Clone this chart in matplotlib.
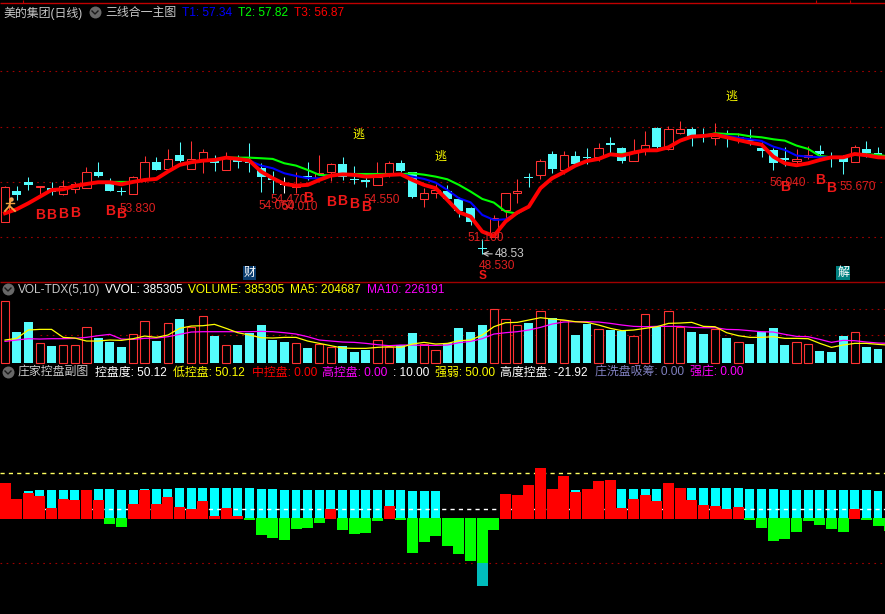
import matplotlib
matplotlib.use("Agg")
import matplotlib.pyplot as plt

plt.rcParams['font.family'] = ['Liberation Sans', 'Noto Sans CJK SC', 'DejaVu Sans']

W, H = 885, 614

# --- daily candles
opens = [51.26,53.98,54.77,54.30,54.22,53.69,54.19,54.22,55.64,54.65,53.98,53.69,54.94,56.48,55.93,57.12,55.93,56.68,56.62,55.84,
         56.68,56.54,55.96,55.09,54.48,54.36,55.32,55.14,55.61,56.33,55.03,54.91,54.48,55.46,56.39,55.61,53.26,53.78,54.01,53.26,
         52.48,49.00,50.01,52.33,53.78,55.23,55.40,57.20,55.84,57.03,56.88,56.97,58.07,57.72,56.59,57.67,59.46,57.64,59.06,59.38,
         58.86,58.57,58.77,58.48,58.42,57.70,57.55,56.83,56.62,56.97,57.46,57.03,57.03,56.54,57.61,57.26,56.97]
closes = [54.30,53.66,54.53,54.39,53.93,54.45,54.56,55.61,55.32,54.01,53.87,55.17,56.48,55.84,56.74,56.59,56.74,57.35,56.45,56.97,
          56.54,56.39,55.17,54.91,54.48,54.51,55.17,55.58,56.30,55.17,54.91,54.80,55.17,56.39,55.75,53.49,53.78,54.07,53.29,52.27,
          51.32,48.91,51.66,53.78,54.01,55.09,56.56,55.90,57.09,56.33,56.83,57.70,58.01,56.59,57.35,57.96,57.81,59.35,59.35,58.74,
          58.77,58.77,58.68,58.65,58.33,57.46,56.45,56.68,56.80,57.12,57.20,56.91,56.54,57.78,57.26,57.12,56.54]
highs = [54.45,54.42,55.20,54.39,54.77,54.94,54.80,56.04,56.48,55.09,54.36,55.29,57.03,56.91,57.64,58.22,58.33,57.64,57.12,57.38,
         57.12,58.13,56.39,55.72,55.23,55.67,56.48,57.12,56.39,56.91,56.16,55.52,56.48,56.59,56.68,55.61,54.22,54.59,54.48,53.49,
         52.62,49.81,51.90,53.84,55.03,55.55,56.77,57.49,57.49,57.46,57.70,58.13,58.68,57.84,58.51,59.20,59.55,59.67,60.07,59.52,
         59.44,59.90,59.26,59.00,59.35,58.28,57.70,57.84,57.64,57.90,57.96,57.41,57.12,57.96,58.33,57.81,57.55]
lows = [51.26,53.20,54.07,53.69,53.64,53.66,53.81,54.22,55.23,54.01,53.66,53.69,54.80,55.81,55.93,56.48,55.90,55.52,55.75,55.84,
        56.01,55.67,53.93,53.84,53.84,53.84,54.94,54.94,54.88,54.94,54.59,54.30,54.48,55.23,55.61,53.37,52.62,53.35,53.20,51.75,
        51.03,48.53,49.95,51.61,52.97,54.33,55.03,55.55,55.46,56.27,56.36,56.62,57.20,56.45,56.59,57.14,57.64,57.55,58.91,57.93,
        58.25,58.01,57.81,58.13,57.96,56.94,55.81,56.19,56.16,56.74,56.97,56.10,55.49,56.54,56.97,56.83,56.39]

t3 = [52.04,52.39,52.91,53.49,54.07,54.13,54.42,54.59,54.74,54.74,54.56,54.77,54.94,55.03,55.67,56.25,56.48,56.62,56.68,56.88,
      56.77,56.62,55.67,55.09,54.59,54.45,54.51,54.94,55.32,55.43,55.38,55.23,55.29,55.38,55.43,54.94,54.51,54.22,53.20,52.13,
      51.75,50.45,50.07,51.32,52.10,52.62,54.22,55.09,55.61,56.19,56.59,56.77,57.17,57.06,57.32,57.52,57.52,57.78,58.36,58.71,
      58.77,58.88,58.65,58.42,58.19,58.01,56.97,56.39,56.22,56.39,56.68,56.91,56.91,57.20,57.09,56.91,56.87]
# T2 and T1 run under T3 except on these bars
t2_apart = {9:54.77,10:54.77,20:56.88,21:56.88,22:56.83,23:56.77,24:56.39,25:56.19,26:55.81,27:55.38,28:55.32,
            30:55.46,31:55.46,32:55.46,33:55.46,35:55.52,36:55.40,37:55.23,38:55.00,39:54.51,40:53.93,41:53.29,42:52.97,43:52.19,44:52.01,
            52:57.20,53:57.20,61:59.00,62:58.94,63:58.91,64:58.74,65:58.65,66:58.48,67:58.36,68:57.93,69:57.64,70:57.03,
            74:57.17,75:57.12,76:56.97}
t1_apart = {22:56.19,23:55.96,24:55.52,25:55.29,26:55.09,27:55.09,35:55.23,36:55.03,37:54.71,38:54.07,39:53.35,40:52.99,41:51.90,42:51.46,43:51.52,44:52.04,
            62:58.77,63:58.62,64:58.48,65:58.33,66:57.84,67:57.55,68:57.06,69:56.97,70:56.91}

price_grid = [64.46, 59.59, 54.72, 49.94]

# signals on the price panel
b_bars = [3,4,5,6,9,10,26,28,29,30,31,67,70,71]
b_prices = [51.90,51.90,51.98,52.04,52.27,51.95,53.40,53.06,53.11,52.85,52.56,54.36,54.94,54.22]
price_labels = ["53.830","54.060","54.470","54.010","54.550","51.100","48.530","56.040","55.670"]
label_x = [9.83,21.8,22.77,23.77,30.77,39.75,40.67,65.67,71.67]
label_y = [52.45,52.71,53.20,52.62,53.17,49.87,47.46,54.65,54.30]
escape_x = [30.4,37.4,62.4]
escape_y = [58.86,56.97,62.19]

# --- volume panel, in thousands of lots
volumes = [717.6,358.8,475.8,226.2,195.0,206.7,206.7,413.4,288.6,241.8,183.3,331.5,483.6,253.5,460.2,510.9,421.2,542.1,312.0,202.8,
           206.7,347.1,440.7,265.2,241.8,226.2,171.6,214.5,179.4,195.0,124.8,148.2,261.3,179.4,206.7,347.1,218.4,144.3,226.2,405.6,
           358.8,440.7,624.0,507.0,436.8,464.1,600.6,522.6,495.3,323.7,452.4,390.0,382.2,370.5,312.0,565.5,417.3,600.6,413.4,358.8,
           335.4,397.8,288.6,237.9,218.4,358.8,405.6,206.7,237.9,214.5,136.5,124.8,312.0,354.9,183.3,159.9,159.9]
ma5 = [265.2,284.7,382.2,390.0,390.0,296.4,288.6,253.5,253.5,265.2,261.3,280.8,312.0,296.4,323.7,401.7,429.0,432.9,448.5,401.7,
       351.0,323.7,292.5,288.6,296.4,296.4,253.5,226.2,198.9,171.6,167.7,167.7,179.4,187.2,179.4,218.4,237.9,218.4,226.2,257.4,
       265.2,323.7,421.2,468.0,471.9,499.2,526.5,510.9,499.2,479.7,471.9,440.7,401.7,374.4,382.2,401.7,421.2,460.2,464.1,471.9,
       425.1,421.2,351.0,315.9,296.4,296.4,304.2,284.7,284.7,280.8,226.2,179.4,206.7,226.2,226.2,214.5,204.7]
ma10 = [249.6,265.2,280.8,276.9,280.8,280.8,284.7,296.4,315.9,331.5,276.9,273.0,284.7,288.6,304.2,331.5,358.8,362.7,362.7,362.7,
        362.7,362.7,366.6,362.7,351.0,335.4,304.2,265.2,253.5,241.8,237.9,226.2,210.6,198.9,206.7,206.7,202.8,202.8,206.7,234.0,
        249.6,280.8,335.4,351.0,362.7,382.2,413.4,452.4,475.8,479.7,479.7,475.8,460.2,440.7,425.1,421.2,425.1,425.1,425.1,413.4,
        409.5,409.5,390.0,386.1,374.4,362.7,358.8,331.5,308.1,304.2,273.0,237.9,261.3,257.4,241.8,230.1,226.2]
vol_grid = [624.8, 320.6]

# --- control panel
ctrl_cyan = [0,0,30.2,31.3,31.3,31.3,31.3,31.3,32.5,32.5,31.3,31.3,32.5,32.5,32.5,33.6,33.6,33.6,33.6,33.6,
             33.6,33.6,32.5,32.5,31.3,31.3,31.3,31.3,31.3,31.3,31.3,31.3,31.3,31.3,31.3,30.2,30.2,30.2,0,0,
             0,0,0,0,0,0,0,0,0,31.3,0,0,0,32.5,32.5,32.5,32.5,0,0,33.6,
             33.6,33.6,33.6,33.6,32.5,32.5,32.5,31.3,31.3,31.3,31.3,31.3,31.3,31.3,31.3,30.2,30.2]
ctrl_red = [39.2,21.3,28.0,24.6,11.2,21.3,20.1,31.3,20.1,0,0,15.7,31.3,15.7,23.5,12.3,10.1,19.0,2.2,11.2,
            2.2,0,0,0,0,0,0,0,10.1,0,0,0,0,13.4,0,0,0,0,0,0,
            0,0,0,26.9,25.7,36.9,56.0,32.5,47.0,29.1,32.5,41.4,42.5,11.2,21.3,25.7,19.0,39.2,33.6,20.1,
            14.6,13.4,10.1,12.3,0,0,0,0,0,0,0,0,0,10.1,0,0,0]
ctrl_green = [0,0,0,0,0,0,0,0,0,-6.7,-10.1,0,0,0,0,0,0,0,0,0,
              0,-2.2,-19.0,-22.4,-24.6,-12.3,-11.2,-5.6,0,-13.4,-17.9,-16.8,-3.4,0,-2.2,-39.2,-26.9,-20.1,-31.3,-40.3,
              -48.1,-50.7,-13.4,0,0,0,0,0,0,0,0,0,0,0,0,0,0,0,0,0,
              0,0,0,0,-2.2,-11.2,-25.7,-23.5,-15.7,-3.4,-7.8,-12.3,-15.7,0,-2.2,-9.0,-14.6]
teal_bar, teal_top, teal_bottom = 41, -50.7, -76.1
red_floor = -1.1
line_high, line_mid, line_low = 50, 10, -50

bars = list(range(len(closes)))
XLIM = (-0.4296, 75.6)
RED = '#ff3232'
CYAN = '#54fcfc'


def panel(top, bottom, ylim):
    a = fig.add_axes([0, 1 - bottom / H, 1, (bottom - top) / H])
    a.set_xlim(*XLIM)
    a.set_ylim(*ylim)
    a.set_axis_off()
    return a


fig = plt.figure(figsize=(W / 100, H / 100), dpi=100, facecolor='black')
ax1 = panel(8, 281, (46.15, 69.90))
ax2 = panel(290, 366, (-38.6, 850.6))
ax3 = panel(381, 614, (-107.5, 153.4))
over = fig.add_axes([0, 0, 1, 1], zorder=10)
over.set_xlim(0, W)
over.set_ylim(H, 0)
over.set_axis_off()

# price panel
for p in price_grid:
    ax1.axhline(p, color='#a00000', lw=0.8, dashes=(1.5, 4), zorder=1)
for i in bars:
    o, c = opens[i], closes[i]
    if c > o:
        col, face = RED, 'black'
    elif c == o:
        col, face = 'white', 'white'
    else:
        col, face = CYAN, CYAN
    ax1.vlines(i, lows[i], highs[i], color=col, lw=0.75, zorder=2)
    if c > o:
        ax1.bar(i, c - o, bottom=o, width=0.72, facecolor=face, edgecolor=col, lw=0.75, zorder=3)
    else:
        ax1.bar(i, max(o - c, 0.12), bottom=c, width=0.77, facecolor=face, edgecolor='none', zorder=3)

t2 = [t2_apart.get(i, v) for i, v in enumerate(t3)]
t1 = [t1_apart.get(i, v) for i, v in enumerate(t3)]
ax1.plot(bars, t2, color='#00ff00', lw=1.5, zorder=4)
ax1.plot(bars, t1, color='#0000ff', lw=1.5, zorder=5)
ax1.plot(bars, t3, color='#ff0000', lw=2.8, zorder=6, solid_joinstyle='round')

for x, y in zip(b_bars, b_prices):
    ax1.text(x, y, 'B', color='#f01818', fontsize=10, fontweight='bold', ha='center', va='center', zorder=8)
for t, x, y in zip(price_labels, label_x, label_y):
    ax1.text(x, y, t, color='#e02020', fontsize=8.6, ha='left', va='center', zorder=7)
for x, y in zip(escape_x, escape_y):
    ax1.text(x, y, '逃', color='#ffff00', fontsize=8.6, ha='center', va='center', zorder=7)
ax1.text(41, 46.59, 'S', color='#f01818', fontsize=8.6, fontweight='bold', ha='center', va='center', zorder=8)
ax1.annotate('48.53', xy=(41, 48.53), xytext=(42.1, 48.47), color='#c8c8c8', fontsize=8.6, va='center', ha='left',
             arrowprops=dict(arrowstyle='->', color='#c8c8c8', lw=0.8, shrinkA=0, shrinkB=0), zorder=7)
ax1.text(21, 46.85, '财', color='white', fontsize=8.6, ha='center', va='center', zorder=8,
         bbox=dict(facecolor='#0a3c6e', edgecolor='none', pad=0.6))
ax1.text(72, 46.85, '解', color='white', fontsize=8.6, ha='center', va='center', zorder=8,
         bbox=dict(facecolor='#008080', edgecolor='none', pad=0.6))

# volume panel
for g in vol_grid:
    ax2.plot([3, XLIM[1]], [g, g], color='#a00000', lw=0.8, dashes=(1.5, 4), zorder=1)
up = [closes[i] > opens[i] for i in bars]
ax2.bar([i for i in bars if not up[i]], [volumes[i] for i in bars if not up[i]], width=0.77, color=CYAN, zorder=2)
ax2.bar([i for i in bars if up[i]], [volumes[i] for i in bars if up[i]], width=0.72, facecolor='black',
        edgecolor=RED, lw=0.8, zorder=2)
ax2.plot(bars, ma10, color='#ff00ff', lw=0.9, zorder=3)
ax2.plot(bars, ma5, color='#ffff00', lw=0.9, zorder=4)

# control panel
ax3.bar(bars, ctrl_cyan, width=0.77, color='#00ffff', zorder=2)
ax3.axhline(line_mid, color='white', lw=1.0, dashes=(3, 3), zorder=3)
ax3.axhline(line_high, color='#ffff60', lw=1.0, dashes=(3, 3), zorder=1)
ax3.axhline(line_low, color='#a00000', lw=0.8, dashes=(1.5, 4), zorder=1)
red_top = [v - red_floor if v else 0 for v in ctrl_red]
ax3.bar(bars, red_top, bottom=red_floor, width=0.945, color='#ff0000', zorder=4)
ax3.bar(bars, ctrl_green, width=0.945, color='#00ff00', zorder=4)
ax3.bar(teal_bar, teal_bottom - teal_top, bottom=teal_top, width=0.945, color='#00bcbc', zorder=4)

# frame lines
over.hlines(2.5, 0, W, color='#c00000', lw=1.0)
over.hlines(281.5, 0, W, color='#a00000', lw=1.0)
over.vlines([23, 816, 850], 0, 2.5, color='#c00000', lw=0.8)


def chevron(x, y):
    over.plot([x], [y], 'o', ms=8.6, color='#686868', mew=0)
    over.plot([x - 3, x, x + 3], [y - 1, y + 2, y - 1], color='#1a1a1a', lw=1.0)


def header(x, y, s, col):
    over.text(x, y + 1, s, color=col, fontsize=8.6, ha='left', va='center')


chevron(95, 12)
chevron(8, 289)
chevron(8, 372)
header(3, 12, '美的集团(日线)', '#c8c8c8')
header(105, 12, '三线合一主图', '#c8c8c8')
header(182, 12, 'T1: 57.34', '#0000ff')
header(238, 12, 'T2: 57.82', '#00ff00')
header(294, 12, 'T3: 56.87', '#ff0000')
header(18, 289, 'VOL-TDX(5,10)', '#c8c8c8')
header(105, 289, 'VVOL: 385305', '#ffffff')
header(188, 289, 'VOLUME: 385305', '#ffff00')
header(290, 289, 'MA5: 204687', '#ffff00')
header(367, 289, 'MA10: 226191', '#ff00ff')
header(18, 372, '庄家控盘副图', '#c8c8c8')
header(95, 372, '控盘度: 50.12', '#ffffff')
header(173, 372, '低控盘: 50.12', '#ffff00')
header(252, 372, '中控盘: 0.00', '#ff0000')
header(322, 372, '高控盘: 0.00', '#ff00ff')
header(393, 372, ': 10.00', '#ffffff')
header(435, 372, '强弱: 50.00', '#ffff00')
header(500, 372, '高度控盘: -21.92', '#ffffff')
header(595, 372, '庄洗盘吸筹: 0.00', '#8080c0')
header(690, 372, '强庄: 0.00', '#ff00ff')

# little runner at the first bar
over.plot([10.8], [198.5], 'o', ms=3.2, color='#f0b060', mew=0)
over.plot([10.5, 9.5, 5], [200, 206, 211], color='#f0a040', lw=1.4)
over.plot([9.5, 15], [206, 211], color='#f0a040', lw=1.4)
over.plot([6, 14], [203, 203], color='#f0a040', lw=1.0)

fig.savefig('out.png', dpi=100, facecolor='black')
